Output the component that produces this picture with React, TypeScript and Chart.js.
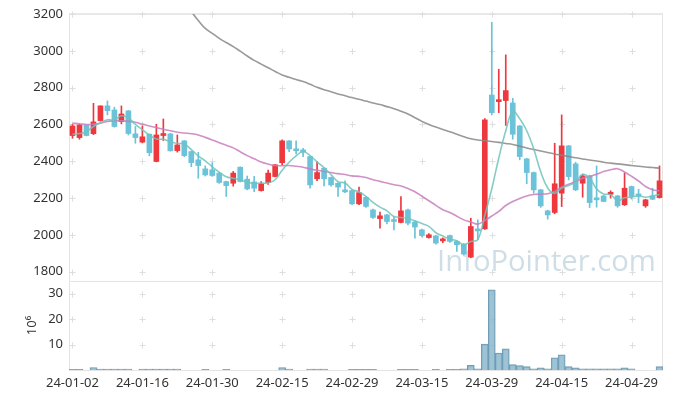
import React, { useEffect, useRef } from 'react';
import { Chart, registerables } from 'chart.js';

Chart.register(...registerables);

const dates = [
  '24-01-02','24-01-03','24-01-04','24-01-05','24-01-08','24-01-09','24-01-10','24-01-11','24-01-12','24-01-15',
  '24-01-16','24-01-17','24-01-18','24-01-19','24-01-22','24-01-23','24-01-24','24-01-25','24-01-26','24-01-29',
  '24-01-30','24-01-31','24-02-01','24-02-02','24-02-05','24-02-06','24-02-07','24-02-08','24-02-13','24-02-14',
  '24-02-15','24-02-16','24-02-19','24-02-20','24-02-21','24-02-22','24-02-23','24-02-26','24-02-27','24-02-28',
  '24-02-29','24-03-04','24-03-05','24-03-06','24-03-07','24-03-08','24-03-11','24-03-12','24-03-13','24-03-14',
  '24-03-15','24-03-18','24-03-19','24-03-20','24-03-21','24-03-22','24-03-25','24-03-26','24-03-27','24-03-28',
  '24-03-29','24-04-01','24-04-02','24-04-03','24-04-04','24-04-05','24-04-08','24-04-09','24-04-11','24-04-12',
  '24-04-15','24-04-16','24-04-17','24-04-18','24-04-19','24-04-22','24-04-23','24-04-24','24-04-25','24-04-26',
  '24-04-29','24-04-30','24-05-02','24-05-03','24-05-07',
];

const opens = [
  2540,2529,2596,2550,2621,2701,2679,2616,2674,2549,
  2504,2547,2399,2540,2549,2458,2511,2453,2408,2359,
  2354,2336,2290,2281,2368,2303,2288,2241,2285,2317,
  2392,2511,2462,2462,2426,2305,2363,2312,2281,2245,
  2241,2169,2204,2136,2089,2109,2076,2068,2136,2070,
  2028,1986,1995,1968,1997,1965,1950,1880,2025,2033,
  2760,2724,2730,2717,2592,2413,2339,2245,2131,2122,
  2227,2484,2386,2281,2321,2193,2212,2221,2212,2164,
  2263,2214,2158,2212,2203,
];
const highs = [
  2600,2600,2598,2715,2701,2728,2694,2701,2676,2589,
  2592,2549,2601,2630,2551,2543,2513,2455,2449,2375,
  2393,2340,2292,2345,2370,2320,2318,2290,2352,2383,
  2516,2513,2511,2470,2430,2399,2365,2315,2285,2294,
  2245,2260,2208,2140,2124,2112,2100,2209,2140,2075,
  2032,2008,1998,1985,2000,1968,1953,2091,2082,2632,
  3155,2900,2978,2742,2595,2416,2342,2248,2135,2498,
  2652,2486,2395,2330,2325,2375,2215,2240,2215,2336,
  2266,2248,2194,2254,2375,
];
const lows = [
  2525,2520,2538,2545,2618,2652,2585,2603,2543,2498,
  2500,2430,2397,2513,2455,2450,2425,2371,2308,2320,
  2318,2280,2209,2265,2288,2245,2235,2238,2275,2315,
  2380,2453,2440,2425,2254,2295,2267,2265,2209,2230,
  2165,2165,2150,2090,2037,2060,2028,2065,2055,1983,
  1990,1982,1950,1958,1960,1910,1890,1876,1975,2030,
  2652,2664,2595,2520,2408,2278,2227,2150,2086,2115,
  2154,2299,2240,2205,2149,2151,2180,2200,2150,2160,
  2195,2175,2150,2192,2200,
];
const closes = [
  2592,2598,2540,2614,2701,2675,2589,2657,2551,2529,
  2533,2447,2543,2549,2457,2489,2431,2393,2377,2326,
  2323,2285,2268,2336,2290,2250,2254,2278,2336,2381,
  2511,2467,2457,2450,2272,2339,2305,2272,2260,2234,
  2169,2230,2155,2095,2104,2073,2073,2131,2064,2043,
  1997,2001,1956,1972,1965,1947,1896,2046,2022,2625,
  2664,2733,2784,2547,2426,2339,2245,2158,2109,2278,
  2484,2317,2245,2321,2176,2191,2182,2225,2158,2254,
  2209,2212,2191,2194,2294,
];
// volume, millions of shares
const volumes = [
  0.3,0.3,0,1.0,0.4,0.4,0.4,0.4,0.4,0,
  0.4,0.4,0.4,0.4,0.4,0.4,0,0,0,0.3,
  0,0,0.3,0,0,0,0,0,0,0,
  1.0,0.4,0,0,0.4,0.4,0.4,0,0,0,
  0.3,0.3,0.3,0.3,0,0,0,0.3,0.3,0.3,
  0,0,0.3,0,0.3,0.3,0.5,1.8,0.5,10.2,
  31.5,6.7,8.3,2.1,1.7,1.3,0.5,0.9,0.5,4.8,
  6.0,1.3,0.9,0.5,0.5,0.5,0.5,0.5,0.5,0.9,
  0.5,0,0,0,1.3,
];
const ma5 = [
  2547,2551,2561,2589,2609,2626,2624,2647,2635,2600,
  2572,2543,2521,2520,2506,2497,2494,2464,2429,2403,
  2370,2341,2316,2308,2300,2286,2280,2282,2282,2300,
  2352,2395,2430,2453,2431,2397,2365,2328,2290,2282,
  2248,2233,2210,2177,2151,2131,2100,2095,2089,2077,
  2062,2047,2012,1994,1978,1968,1947,1965,1975,2107,
  2251,2418,2566,2671,2631,2566,2468,2343,2255,2226,
  2255,2269,2287,2329,2309,2250,2223,2219,2186,2202,
  2206,2212,2205,2212,2220,
];
const ma20 = [
  2607,2604,2600,2602,2607,2617,2620,2620,2618,2612,
  2602,2592,2583,2574,2566,2558,2554,2550,2543,2530,
  2516,2501,2487,2473,2452,2431,2414,2396,2385,2377,
  2376,2377,2373,2368,2359,2351,2345,2339,2333,2328,
  2321,2318,2312,2300,2291,2282,2273,2266,2252,2235,
  2210,2186,2161,2137,2122,2102,2082,2071,2059,2078,
  2103,2128,2160,2182,2198,2212,2220,2222,2224,2236,
  2260,2276,2290,2308,2318,2330,2345,2354,2360,2342,
  2319,2293,2263,2246,2239,
];
const ma60 = [
  null,null,null,null,null,null,null,null,null,null,
  null,null,null,null,null,3300,3252,3212,3165,3122,
  3095,3068,3045,3023,2998,2972,2948,2928,2908,2888,
  2869,2856,2844,2833,2818,2802,2789,2778,2766,2756,
  2746,2737,2727,2717,2708,2697,2686,2672,2657,2637,
  2617,2600,2586,2573,2561,2547,2534,2522,2516,2512,
  2508,2503,2497,2491,2482,2472,2464,2456,2448,2440,
  2433,2426,2419,2413,2407,2402,2395,2390,2386,2382,
  2377,2373,2369,2366,2363,
];

const priceTicks = [1800, 2000, 2200, 2400, 2600, 2800, 3000, 3200];
const volumeTicks = [10, 20, 30];
const xTickEvery = 10;

const UP = '#ee383d';
const DOWN = '#6bc2d9';
const FONT = { family: '"Noto Sans", sans-serif', size: 13 };

export default function App() {
  const ref = useRef<HTMLCanvasElement>(null);

  useEffect(() => {
    const canvas = ref.current;
    if (!canvas) return;
    const colors = closes.map((c, i) => (c >= opens[i] ? UP : DOWN));

    const decor = {
      id: 'decor',
      beforeDatasetsDraw(chart: any) {
        const { ctx, chartArea: a, scales } = chart;
        const xs = scales.x, yp = scales.y, yv = scales.yv;
        ctx.save();
        // watermark
        ctx.font = '30px "Open Sans", sans-serif';
        const w = ctx.measureText('InfoPointer.com').width;
        const size = 30 * 219 / w;
        ctx.font = `${size}px "Open Sans", sans-serif`;
        ctx.fillStyle = 'rgba(178,201,214,0.62)';
        ctx.textAlign = 'left';
        ctx.textBaseline = 'alphabetic';
        ctx.fillText('InfoPointer.com', 437, 271);

        // frame
        ctx.strokeStyle = '#e4e4e4';
        ctx.lineWidth = 1;
        ctx.beginPath();
        ctx.moveTo(a.left + 0.5, a.top);
        ctx.lineTo(a.left + 0.5, a.bottom);
        ctx.moveTo(a.right - 0.5, a.top);
        ctx.lineTo(a.right - 0.5, a.bottom);
        ctx.moveTo(a.left, Math.round(yp.bottom) + 0.5);
        ctx.lineTo(a.right, Math.round(yp.bottom) + 0.5);
        ctx.moveTo(a.left, a.bottom + 0.5);
        ctx.lineTo(a.right, a.bottom + 0.5);
        ctx.stroke();
        ctx.lineWidth = 2;
        ctx.strokeStyle = '#e8e8e8';
        ctx.beginPath();
        ctx.moveTo(a.left, a.top);
        ctx.lineTo(a.right, a.top);
        ctx.stroke();

        // crosses
        const xsPix: number[] = [];
        for (let i = 0; i < dates.length; i += xTickEvery) xsPix.push(xs.getPixelForValue(i));
        const ysPix: number[] = [
          ...priceTicks.map(v => yp.getPixelForValue(v)),
          ...volumeTicks.map(v => yv.getPixelForValue(v)),
        ];
        ctx.strokeStyle = '#dedede';
        ctx.lineWidth = 1;
        ctx.beginPath();
        for (const x of xsPix) {
          for (const y of ysPix) {
            const px = Math.round(x) + 0.5, py = Math.round(y) + 0.5;
            ctx.moveTo(px - 3, py); ctx.lineTo(px + 3, py);
            ctx.moveTo(px, py - 3); ctx.lineTo(px, py + 3);
          }
        }
        ctx.stroke();
        ctx.restore();
      },
    };

    const chart = new Chart(canvas, {
      type: 'bar',
      data: {
        labels: dates,
        datasets: [
          {
            type: 'line', label: 'MA5', data: ma5, yAxisID: 'y', order: 0,
            borderColor: 'rgba(112,196,186,0.85)', borderWidth: 1.6, pointRadius: 0, tension: 0.4, fill: false,
          },
          {
            type: 'line', label: 'MA20', data: ma20, yAxisID: 'y', order: 0,
            borderColor: 'rgba(200,125,190,0.85)', borderWidth: 1.6, pointRadius: 0, tension: 0.4, fill: false,
          },
          {
            type: 'line', label: 'MA60', data: ma60 as any, yAxisID: 'y', order: 0,
            borderColor: 'rgba(135,135,135,0.85)', borderWidth: 1.6, pointRadius: 0, tension: 0.4, fill: false,
          },
          {
            type: 'bar', label: 'body', yAxisID: 'y', order: 1, grouped: false,
            data: opens.map((o, i) => [o, closes[i]]) as any,
            backgroundColor: colors, barThickness: 5, minBarLength: 2, borderWidth: 0,
          },
          {
            type: 'bar', label: 'wick', yAxisID: 'y', order: 2, grouped: false,
            data: lows.map((l, i) => [l, highs[i]]) as any,
            backgroundColor: colors, barThickness: 1, borderWidth: 0,
          },
          {
            type: 'bar', label: 'volume', yAxisID: 'yv', order: 3, grouped: false,
            data: volumes,
            backgroundColor: 'rgba(140,184,204,0.85)', borderColor: 'rgba(105,152,177,0.95)', borderWidth: 1,
            barPercentage: 1, categoryPercentage: 1,
          },
        ],
      },
      options: {
        responsive: false,
        animation: false,
        devicePixelRatio: 1,
        layout: { padding: { top: 14, right: 10, left: 0, bottom: 0 } },
        plugins: { legend: { display: false }, tooltip: { enabled: false } },
        scales: {
          x: {
            type: 'category', offset: true,
            grid: { display: false, drawTicks: false }, border: { display: false },
            ticks: {
              autoSkip: false, maxRotation: 0, minRotation: 0, padding: 5, color: '#333', font: FONT,
              callback: (_v: any, i: number) => (i % xTickEvery === 0 ? dates[i] : ''),
            },
            afterFit: (s: any) => { s.height = 29; },
          },
          yv: {
            type: 'linear', position: 'left', stack: 'panels', stackWeight: 1,
            min: 0, max: 35,
            grid: { display: false, drawTicks: false }, border: { display: false },
            title: {
              display: true, text: '10⁶', color: '#333', font: FONT,
              padding: { top: 24, bottom: 0 },
            },
            ticks: {
              autoSkip: false, stepSize: 10, includeBounds: false, padding: 6, color: '#333', font: FONT,
              callback: (v: any) => (volumeTicks.includes(v) ? String(v) : ''),
            },
            afterFit: (s: any) => { s.width = 69; },
          },
          y: {
            type: 'linear', position: 'left', stack: 'panels', stackWeight: 3,
            min: 1750, max: 3200,
            grid: { display: false, drawTicks: false }, border: { display: false },
            ticks: {
              autoSkip: false, stepSize: 200, includeBounds: false, padding: 6, color: '#333', font: FONT,
              callback: (v: any) => (priceTicks.includes(v) ? String(v) : ''),
            },
            afterFit: (s: any) => { s.width = 69; },
          },
        },
      } as any,
      plugins: [decor],
    });
    return () => chart.destroy();
  }, []);

  return (
    <div style={{ position: 'absolute', left: 0, top: 0, width: 673, height: 399, background: '#fff' }}>
      <canvas ref={ref} width={673} height={399} style={{ width: 673, height: 399, display: 'block' }} />
    </div>
  );
}
